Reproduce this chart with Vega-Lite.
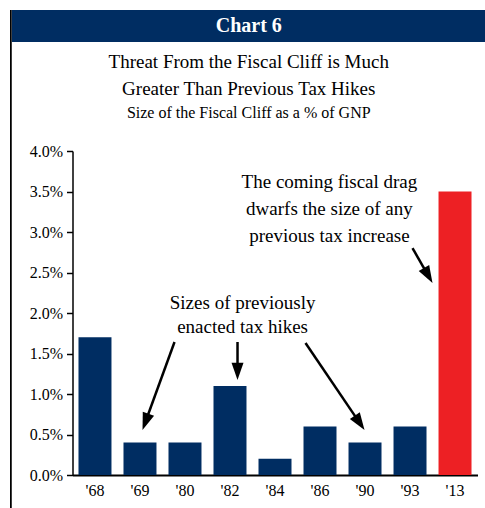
{
  "$schema": "https://vega.github.io/schema/vega-lite/v6.json",
  "padding": {"left": 10, "top": 10, "right": 0, "bottom": 0},
  "background": "white",
  "config": {
    "font": "Liberation Serif",
    "view": {"stroke": null},
    "axis": {"labelFont": "Liberation Serif", "labelFontSize": 16, "labelColor": "black", "domainColor": "black", "tickColor": "black", "grid": false, "title": null}
  },
  "datasets": {
    "bars": [
      {"year": "'68", "value": 1.7, "kind": "past"},
      {"year": "'69", "value": 0.4, "kind": "past"},
      {"year": "'80", "value": 0.4, "kind": "past"},
      {"year": "'82", "value": 1.1, "kind": "past"},
      {"year": "'84", "value": 0.2, "kind": "past"},
      {"year": "'86", "value": 0.6, "kind": "past"},
      {"year": "'90", "value": 0.4, "kind": "past"},
      {"year": "'93", "value": 0.6, "kind": "past"},
      {"year": "'13", "value": 3.5, "kind": "cliff"}
    ],
    "notes": [
      {"line": "The coming fiscal drag", "nx": 5.71, "ny": 3.543},
      {"line": "dwarfs the size of any", "nx": 5.71, "ny": 3.21},
      {"line": "previous tax increase", "nx": 5.71, "ny": 2.877},
      {"line": "Sizes of previously", "nx": 3.78, "ny": 2.049},
      {"line": "enacted tax hikes", "nx": 3.78, "ny": 1.753}
    ],
    "arrows": [
      {"sx": 2.267, "sy": 1.642, "ex": 1.616, "ey": 0.648, "tx": 1.556, "ty": 0.556, "dir": 200},
      {"sx": 3.667, "sy": 1.642, "ex": 3.667, "ey": 1.272, "tx": 3.667, "ty": 1.173, "dir": 180},
      {"sx": 5.178, "sy": 1.63, "ex": 6.389, "ey": 0.637, "tx": 6.489, "ty": 0.556, "dir": 145.9},
      {"sx": 7.556, "sy": 2.802, "ex": 7.911, "ey": 2.456, "tx": 8.0, "ty": 2.37, "dir": 150.3}
    ]
  },
  "spacing": 0,
  "hconcat": [
    {
      "width": 1.5,
      "height": 498,
      "data": {"values": [{}]},
      "mark": {"type": "rect", "color": "black"},
      "view": {"fill": "black", "stroke": null}
    },
    {
      "spacing": 11,
      "vconcat": [
        {
          "width": 473.5,
          "height": 32,
          "data": {"values": [{"label": "Chart 6"}]},
          "mark": {"type": "text", "color": "white", "font": "Liberation Serif", "fontSize": 20, "fontWeight": "bold"},
          "encoding": {"text": {"field": "label"}},
          "view": {"fill": "#002d62", "stroke": null}
        },
        {
          "width": 473.5,
          "height": 324,
          "title": {
            "text": ["Threat From the Fiscal Cliff is Much", "Greater Than Previous Tax Hikes"],
            "subtitle": "Size of the Fiscal Cliff as a % of GNP",
            "font": "Liberation Serif",
            "fontSize": 19,
            "fontWeight": "normal",
            "lineHeight": 27,
            "color": "black",
            "subtitleFont": "Liberation Serif",
            "subtitleFontSize": 16,
            "subtitleColor": "black",
            "subtitlePadding": 6,
            "offset": 22,
            "anchor": "middle",
            "frame": "group"
          },
          "resolve": {"scale": {"x": "independent"}},
          "layer": [
            {
              "data": {"name": "bars"},
              "mark": {"type": "bar"},
              "encoding": {
                "x": {
                  "field": "year", "type": "nominal", "sort": null,
                  "scale": {"range": [60.5, 465.5], "paddingInner": 0.267, "paddingOuter": 0.133},
                  "axis": {"labelAngle": 0, "ticks": false, "tickSize": 0, "labelPadding": 7, "domainWidth": 2, "title": null}
                },
                "y": {
                  "field": "value", "type": "quantitative",
                  "scale": {"domain": [0, 4], "nice": false},
                  "axis": {"values": [0, 0.5, 1, 1.5, 2, 2.5, 3, 3.5, 4], "labelExpr": "format(datum.value, '.1f') + '%'", "tickSize": 6, "tickWidth": 1.5, "domainWidth": 1.5, "labelPadding": 4, "offset": -60.5, "title": null}
                },
                "color": {
                  "field": "kind", "type": "nominal",
                  "scale": {"domain": ["past", "cliff"], "range": ["#002d62", "#ed2024"]},
                  "legend": null
                }
              }
            },
            {
              "data": {"name": "notes"},
              "mark": {"type": "text", "font": "Liberation Serif", "fontSize": 19, "color": "black", "align": "center", "baseline": "alphabetic"},
              "encoding": {
                "x": {"field": "nx", "type": "quantitative", "scale": {"domain": [0, 9], "range": [60.5, 465.5], "nice": false, "zero": false}, "axis": null},
                "y": {"field": "ny", "type": "quantitative", "title": null},
                "text": {"field": "line"}
              }
            },
            {
              "data": {"name": "arrows"},
              "mark": {"type": "rule", "color": "black", "strokeWidth": 2.5},
              "encoding": {
                "x": {"field": "sx", "type": "quantitative", "scale": {"domain": [0, 9], "range": [60.5, 465.5], "nice": false, "zero": false}, "axis": null},
                "y": {"field": "sy", "type": "quantitative", "title": null},
                "x2": {"field": "ex"},
                "y2": {"field": "ey"}
              }
            },
            {
              "data": {"name": "arrows"},
              "mark": {"type": "point", "shape": "M0,0L0.4,1.15L-0.4,1.15Z", "filled": true, "size": 900, "color": "black", "opacity": 1, "strokeWidth": 0},
              "encoding": {
                "x": {"field": "tx", "type": "quantitative", "scale": {"domain": [0, 9], "range": [60.5, 465.5], "nice": false, "zero": false}, "axis": null},
                "y": {"field": "ty", "type": "quantitative", "title": null},
                "angle": {"field": "dir", "type": "quantitative", "scale": null}
              }
            }
          ]
        }
      ]
    }
  ]
}
